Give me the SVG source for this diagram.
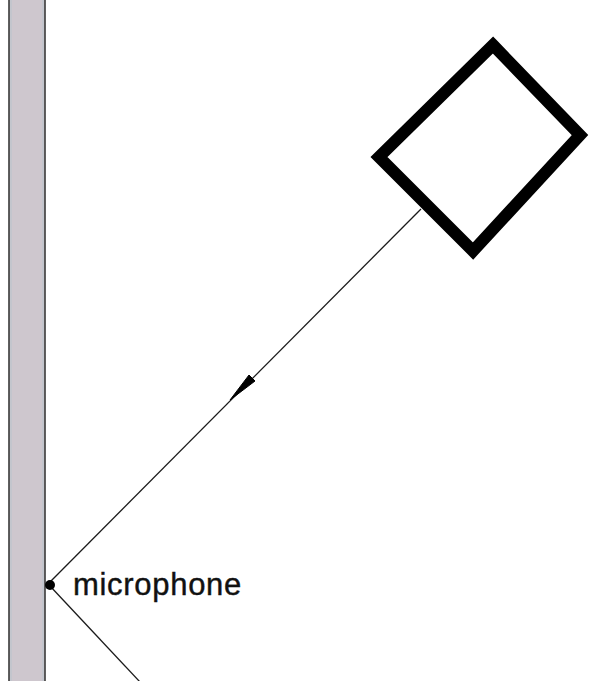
<svg xmlns="http://www.w3.org/2000/svg" width="589" height="681" viewBox="0 0 589 681">
  <style>
    .wall { fill: #cec7ce; stroke: #3a3a3a; stroke-width: 1.6; }
    .wallin { fill: none; stroke: #b8c4cc; stroke-width: 1; }
    .ray { fill: none; stroke: #1a1a1a; stroke-width: 1.3; }
    .src { fill: none; stroke: #000; stroke-width: 12; stroke-linejoin: miter; }
    .label { font-family: "Liberation Sans", Arial, sans-serif; font-size: 31px; fill: #111; stroke: #111; stroke-width: 0.4; }
  </style>
  <rect width="589" height="681" fill="#fff"/>
  <g id="wall">
    <rect class="wall" x="9" y="-2" width="36" height="686"/>
    <line class="wallin" x1="11" y1="-2" x2="11" y2="684"/>
    <line class="wallin" x1="43" y1="-2" x2="43" y2="684"/>
  </g>
  <g id="connectors">
    <line class="ray" x1="421" y1="209" x2="50" y2="582"/>
    <polygon points="230,400 255,381 249,375" fill="#000" stroke="#000" stroke-width="1" stroke-linejoin="round"/>
    <line class="ray" x1="50" y1="586" x2="140" y2="682"/>
  </g>
  <g id="source">
    <polygon class="src" points="493,45 580,135 473,251 379,157"/>
  </g>
  <g id="microphone">
    <circle cx="50" cy="585" r="5" fill="#000"/>
    <text class="label" x="73" y="595" letter-spacing="0.7">microphone</text>
  </g>
</svg>
